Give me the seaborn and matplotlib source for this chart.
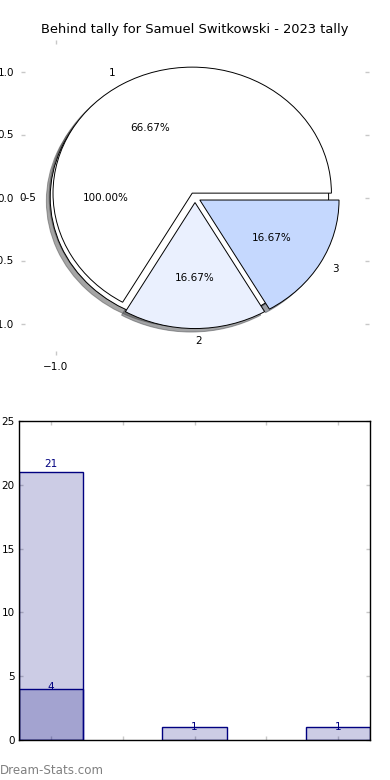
import matplotlib
matplotlib.use("Agg")
import matplotlib.pyplot as plt
import pandas as pd
import seaborn as sns

# data
title = "Behind tally for Samuel Switkowski - 2023 tally"
outer_labels = ["0-5"]
outer_values = [21]
inner_labels = ["1", "2", "3"]
inner_values = [4, 1, 1]
inner_colors = ["#ffffff", "#eaf0fe", "#c5d8fe"]
bar_cats = ["1", "2", "3"]
bar_totals = [21, 1, 1]
overlay_cats = ["1"]
overlay_values = [4]

sns.set_theme(style="white")
plt.rcParams["font.family"] = ["DejaVu Sans"]
plt.rcParams["text.color"] = "black"
plt.rcParams["axes.labelcolor"] = "black"

fig = plt.figure(figsize=(3.9, 7.8), dpi=100)

# ---- pie ----
ax1 = fig.add_axes([21 / 390, 1 - 355 / 780, 348 / 390, 315 / 780])
wp = {"edgecolor": "black", "linewidth": 0.7}
tp = {"fontsize": 7.5, "color": "black"}
ax1.pie(outer_values, labels=outer_labels, colors=["white"], autopct="%1.2f%%",
        explode=[0.04], shadow=True, frame=True, wedgeprops=wp, textprops=tp)
ax1.pie(inner_values, labels=inner_labels, colors=inner_colors, autopct="%1.2f%%",
        explode=[0.04] * 3, shadow=True, frame=True, wedgeprops=wp, textprops=tp)
ax1.set_aspect("auto")
ax1.set_xlim(-1.25, 1.25)
ax1.set_ylim(-1.25, 1.25)
ax1.set_frame_on(False)
ax1.set_xticks([-1.0])
ax1.set_xticklabels(["\u22121.0"])
ax1.set_yticks([-1.0, -0.5, 0.0, 0.5, 1.0])
ax1.set_yticklabels(["\u22121.0", "\u22120.5", "0.0", "0.5", "1.0"])
ax1.tick_params(direction="in", length=3, width=1, color="#c8c8c8",
                labelcolor="black", top=True, right=True, left=True, bottom=True,
                labelsize=7.5, pad=5)
ax1.set_title(title, fontsize=9.4, pad=5, color="black")

# ---- bars ----
ax2 = fig.add_axes([19 / 390, 40 / 780, 351 / 390, 319 / 780])
sns.barplot(x=bar_cats, y=bar_totals, order=bar_cats, width=0.45, ax=ax2)
sns.barplot(x=overlay_cats, y=overlay_values, order=bar_cats, width=0.45, ax=ax2)
for p in ax2.patches:
    p.set_facecolor((0, 0, 0.5, 0.2))
    p.set_edgecolor("navy")
    p.set_linewidth(1)

for i, v in enumerate(bar_totals):
    ax2.text(i, v * 1.03, str(v), ha="center", va="center", color="navy", fontsize=7.5)
for c, v in zip(overlay_cats, overlay_values):
    ax2.text(bar_cats.index(c), v * 1.03, str(v), ha="center", va="center",
             color="navy", fontsize=7.5)

ax2.set_xlim(-0.225, 2.225)
ax2.set_ylim(0, 25)
ax2.set_xticks([0, 0.5, 1, 1.5, 2])
ax2.set_xticklabels([])
ax2.set_yticks([0, 5, 10, 15, 20, 25])
ax2.set_yticklabels(["0", "5", "10", "15", "20", "25"])
ax2.set_xlabel("")
ax2.set_ylabel("")
for s in ax2.spines.values():
    s.set_visible(True)
    s.set_color("black")
    s.set_linewidth(1)
ax2.tick_params(direction="in", length=3, width=1, color="#c8c8c8",
                labelcolor="black", top=True, right=True, left=True, bottom=True,
                labelsize=7.5, pad=3)

fig.text(0.0, 10 / 780, "Dream-Stats.com", color="#808080", fontsize=8.6,
         ha="left", va="center")

fig.savefig("out.png", dpi=100)
